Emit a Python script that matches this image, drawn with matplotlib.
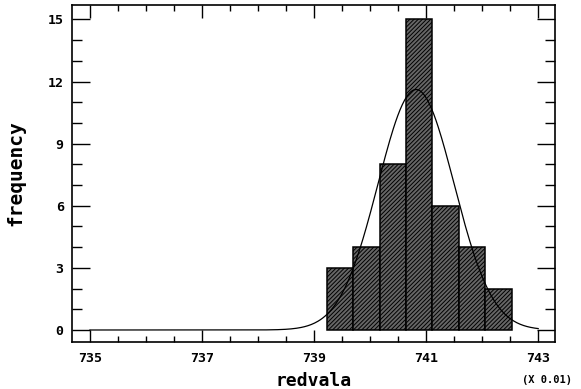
import numpy as np
import matplotlib.pyplot as plt

# histogram (x in units of 0.01)
bin_edges = [739.23, 739.70, 740.17, 740.64, 741.11, 741.58, 742.05, 742.53]
counts = [3, 4, 8, 15, 6, 4, 2]

# fitted normal curve parameters
fit_mean = 740.82
fit_sigma = 0.68

xticks = [735, 737, 739, 741, 743]
yticks = [0, 3, 6, 9, 12, 15]

mono = 'DejaVu Sans Mono'

fig = plt.figure(figsize=(5.81, 3.89), dpi=100)
ax = fig.add_axes([72/581, 47/389, 483/581, 337/389])

edges = np.array(bin_edges)
widths = np.diff(edges)
plt.rcParams['hatch.linewidth'] = 0.7
ax.bar(edges[:-1], counts, width=widths, align='edge', facecolor='#666666',
       edgecolor='black', linewidth=1.1, hatch='////////', zorder=2)

# normal curve scaled to the histogram area
n_total = sum(counts)
xs = np.linspace(735, 743, 400)
scale = n_total * widths.mean()
ys = scale * np.exp(-0.5 * ((xs - fit_mean) / fit_sigma) ** 2) / (fit_sigma * np.sqrt(2 * np.pi))
ax.plot(xs, ys, color='black', linewidth=0.9, zorder=3)

ax.set_xlim(734.68, 743.30)
ax.set_ylim(-0.58, 15.70)

ax.set_xticks(xticks)
ax.set_xticks(np.arange(735, 743.01, 0.5), minor=True)
ax.set_yticks(yticks)
ax.set_yticks(np.arange(0, 16, 1), minor=True)

ax.tick_params(axis='both', which='both', direction='in', top=True, right=True,
               width=1.0, colors='black')
ax.tick_params(axis='x', which='major', length=9, pad=7)
ax.tick_params(axis='x', which='minor', length=4.5)
ax.tick_params(axis='y', which='major', length=13, pad=6)
ax.tick_params(axis='y', which='minor', length=7)

for lab in ax.get_xticklabels() + ax.get_yticklabels():
    lab.set_fontfamily(mono)
    lab.set_fontweight('bold')
    lab.set_fontsize(9.5)

for sp in ax.spines.values():
    sp.set_linewidth(1.2)

ax.set_xlabel('redvala', fontfamily=mono, fontsize=13, fontweight='bold')
ax.xaxis.set_label_coords(0.5, -0.088)
ax.set_ylabel('frequency', fontfamily=mono, fontsize=14, fontweight='bold')
ax.yaxis.set_label_coords(-0.097, 0.5)

fig.text(547/581, 1 - 380/389, '(X 0.01)', fontfamily=mono, fontsize=7.5,
         fontweight='bold', ha='center', va='center')

fig.savefig('out.png', dpi=100)
